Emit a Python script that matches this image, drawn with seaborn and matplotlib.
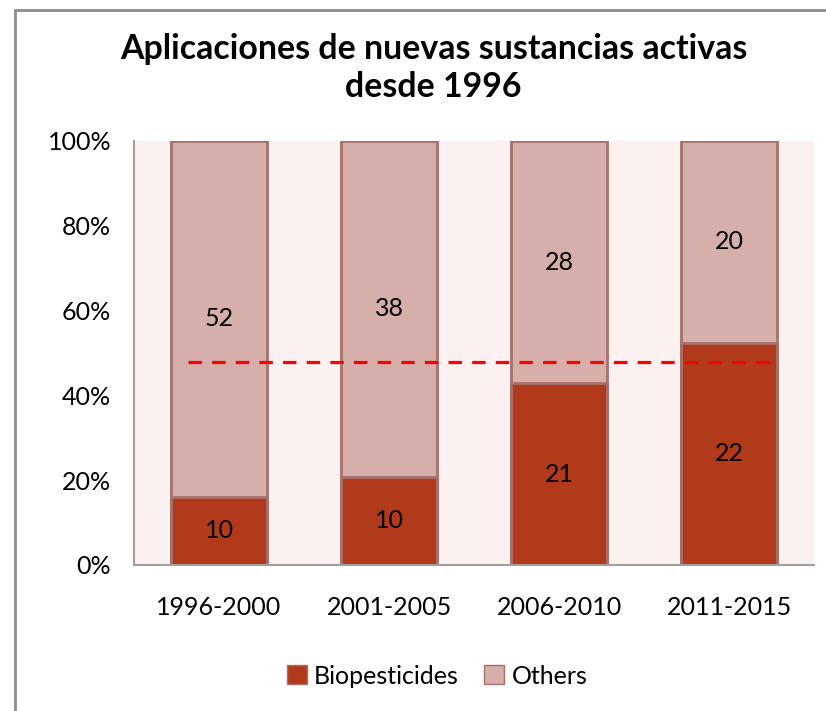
import matplotlib.pyplot as plt
import matplotlib.patches as mpatches
import seaborn as sns
import pandas as pd

# --------------------- data -------------------------- #
periods = ['1996-2000', '2001-2005', '2006-2010', '2011-2015']
biopesticides = [10, 10, 21, 22]
others = [52, 38, 28, 20]
reference_share = 0.479          # dashed red reference line
reference_span = [-0.18, 3.28]   # x range of the dashed line (category units)

df = pd.DataFrame({'period': periods, 'Biopesticides': biopesticides, 'Others': others})
df['total'] = df['Biopesticides'] + df['Others']
df['bio_pct'] = df['Biopesticides'] / df['total'] * 100
df['all_pct'] = 100.0

sns.set_style('white')
plt.rcParams['font.family'] = ['Lato', 'DejaVu Sans']
plt.rcParams['text.color'] = 'black'
plt.rcParams['xtick.color'] = 'black'
plt.rcParams['ytick.color'] = 'black'

fig = plt.figure(figsize=(8.26, 7.11), dpi=100)
ax = fig.add_axes([134/826, 1 - 565/711, 680/826, 424/711])

bio_col = '#B03A1A'
oth_col = '#D6AEAA'
edge_col = '#A8706B'

# Others = full stack, Biopesticides drawn on top of it
sns.barplot(data=df, x='period', y='all_pct', color=oth_col, width=0.57,
            edgecolor=edge_col, linewidth=2, saturation=1, ax=ax)
sns.barplot(data=df, x='period', y='bio_pct', color=bio_col, width=0.57,
            edgecolor=edge_col, linewidth=2, saturation=1, ax=ax)

ax.plot(reference_span, [reference_share * 100] * 2, color='#FF0000',
        linestyle=(0, (4.2, 3.2)), linewidth=2.3, zorder=5)

# value labels
for i, row in df.iterrows():
    ax.text(i, row['bio_pct'] / 2, str(row['Biopesticides']), ha='center', va='center',
            fontsize=18, color='black')
    ax.text(i, (100 + row['bio_pct']) / 2, str(row['Others']), ha='center', va='center',
            fontsize=18, color='black')

ax.set_facecolor('#FAF1F0')
ax.set_xlim(-0.5, 3.5)
ax.set_ylim(0, 100)
ax.set_yticks([0, 20, 40, 60, 80, 100])
ax.set_yticklabels([f'{v}%' for v in [0, 20, 40, 60, 80, 100]], fontsize=18)
ax.tick_params(axis='x', labelsize=18, pad=19)
ax.tick_params(axis='y', pad=13)
ax.set_xlabel('')
ax.set_ylabel('')
for s in ['top', 'right']:
    ax.spines[s].set_visible(False)
for s in ['left', 'bottom']:
    ax.spines[s].set_color('#A0A0A0')
    ax.spines[s].set_linewidth(1.5)

fig.text(0.525, 1 - 68/711, 'Aplicaciones de nuevas sustancias activas\ndesde 1996',
         ha='center', va='center', fontsize=24.4, fontweight='bold', linespacing=1.2)

handles = [mpatches.Patch(facecolor=bio_col, edgecolor=edge_col, label='Biopesticides'),
           mpatches.Patch(facecolor=oth_col, edgecolor=edge_col, label='Others')]
fig.legend(handles=handles, loc='center', bbox_to_anchor=(0.529, 1 - 676/711), ncol=2,
           frameon=False, fontsize=18, handlelength=0.8, handleheight=0.8,
           handletextpad=0.3, columnspacing=1.0)

# outer chart frame
fig.patches.append(mpatches.Rectangle((15/826, -0.05), 1.1, 1 - 10/711 + 0.05,
                                      transform=fig.transFigure, fill=False,
                                      edgecolor='#8C8C8C', linewidth=2))

fig.savefig('out.png', dpi=100)
